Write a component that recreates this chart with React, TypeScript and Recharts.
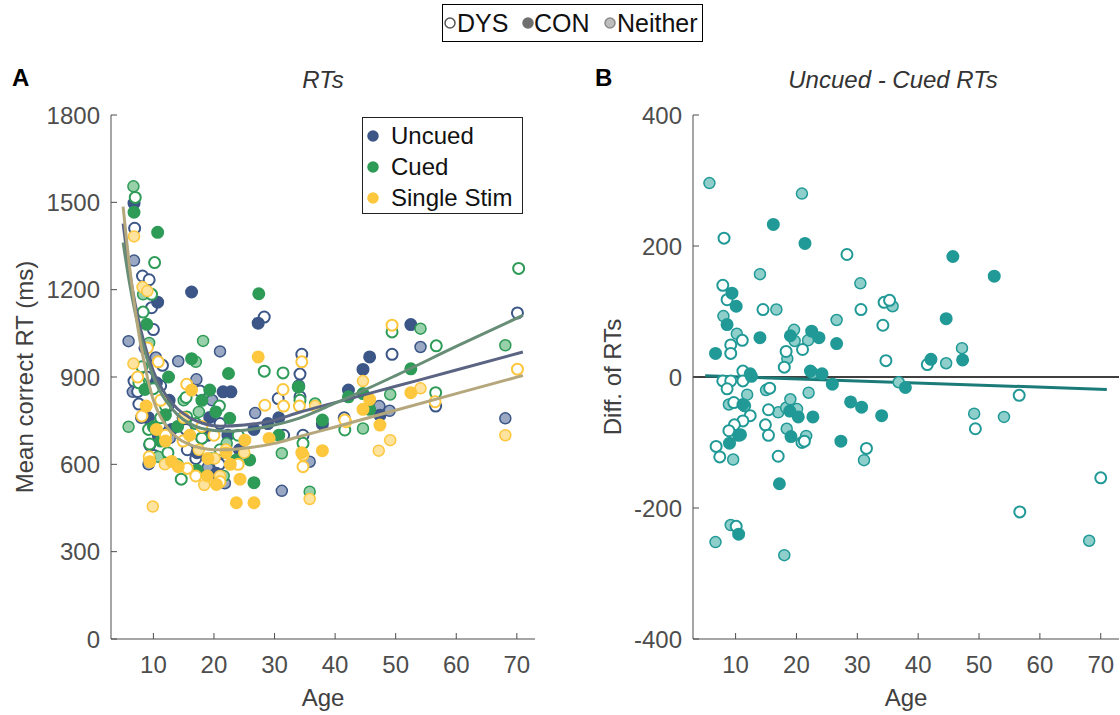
import React from 'react';
import { ScatterChart, Scatter, XAxis, YAxis, ReferenceLine } from 'recharts';

type Pt = [number, number];

// Panel A: [age, mean correct RT (ms)]
const uncuedDys: Pt[] = [
  [6.9, 1411], [8.2, 1247], [9.3, 1234], [9.7, 1138], [10.0, 1063], [11.5, 940], [6.8, 886],
  [8.9, 900], [11.2, 870], [7.4, 850], [7.6, 807], [12.4, 800], [9.2, 760], [14.9, 760],
  [11.1, 735], [15.4, 720], [18.0, 690], [9.4, 666], [15.6, 650], [21.3, 640], [10.1, 630],
  [17.0, 620], [20.9, 600], [17.7, 852], [21.0, 740], [28.3, 1106], [34.5, 978], [34.2, 910],
  [34.2, 832], [30.6, 826], [34.7, 700], [31.5, 700], [41.5, 760], [49.4, 978], [56.6, 800],
  [70.1, 1120],
];
const uncuedCon: Pt[] = [
  [6.8, 1497], [16.3, 1192], [10.7, 1157], [27.3, 1085], [8.6, 1000], [10.5, 880], [12.6, 820],
  [9.0, 760], [13.0, 720], [15.0, 760], [19.0, 700], [21.5, 849], [22.8, 849], [19.3, 761],
  [22.3, 700], [24.2, 650], [20.4, 569], [26.6, 720], [28.9, 740], [30.7, 760], [34.0, 870],
  [37.9, 738], [42.2, 855], [44.6, 926], [45.7, 969], [47.4, 769], [52.5, 1080], [17.2, 640],
  [10.8, 700],
];
const uncuedNeither: Pt[] = [
  [6.8, 1300], [5.9, 1023], [10.4, 967], [14.1, 954], [21.0, 988], [17.1, 892], [6.6, 849],
  [12.7, 690], [8.0, 760], [19.0, 590], [17.0, 640], [21.8, 535], [26.8, 776], [31.2, 509],
  [35.8, 609], [47.3, 800], [49.0, 784], [54.1, 1003], [68.1, 758], [9.2, 600], [19.7, 820],
  [22.0, 660], [15.0, 680],
];
const cuedDys: Pt[] = [
  [7.0, 1517], [10.2, 1293], [9.7, 1184], [8.3, 1123], [8.1, 935], [10.0, 860], [7.6, 880],
  [12.0, 800], [9.4, 670], [11.2, 760], [15.5, 763], [14.6, 549], [18.0, 690], [21.0, 650],
  [24.0, 700], [15.4, 830], [17.0, 740], [20.9, 800], [28.3, 920], [31.4, 914], [34.0, 866],
  [34.2, 820], [34.7, 672], [41.6, 718], [49.4, 1055], [56.7, 1007], [56.6, 846], [70.3, 1273],
  [12.4, 640], [9.2, 720],
];
const cuedCon: Pt[] = [
  [6.8, 1466], [10.7, 1397], [8.9, 1081], [27.4, 1186], [16.3, 963], [8.6, 857], [10.0, 729],
  [12.0, 770], [14.0, 730], [19.3, 855], [22.4, 912], [18.0, 820], [22.6, 758], [20.3, 780],
  [23.7, 615], [25.9, 615], [26.6, 537], [33.9, 866], [30.7, 700], [37.9, 752], [42.2, 832],
  [44.6, 843], [45.7, 789], [52.5, 928], [11.2, 680], [9.4, 620], [17.2, 580], [12.5, 900],
];
const cuedNeither: Pt[] = [
  [6.7, 1555], [8.3, 1184], [9.3, 1017], [18.2, 1024], [17.0, 952], [5.9, 729], [11.6, 700],
  [10.8, 626], [14.0, 600], [17.5, 780], [22.1, 672], [19.6, 620], [31.2, 638], [35.8, 506],
  [36.7, 809], [44.6, 723], [49.1, 840], [54.1, 1066], [68.1, 1009], [8.0, 880], [21.6, 560],
  [15.0, 820],
];
const singleDys: Pt[] = [
  [10.8, 952], [15.5, 875], [8.1, 766], [9.3, 626], [15.6, 586], [12.0, 700], [18.0, 730],
  [20.0, 700], [22.0, 650], [24.0, 600], [9.0, 1000], [11.2, 820], [14.9, 680], [17.0, 560],
  [21.0, 540], [28.4, 803], [31.4, 857], [31.5, 800], [34.1, 800], [34.5, 952], [34.7, 632],
  [34.7, 592], [41.6, 752], [49.4, 1078], [56.5, 815], [70.1, 927], [7.4, 900],
];
const singleCon: Pt[] = [
  [8.8, 800], [9.4, 609], [12.0, 680], [13.0, 610], [14.1, 592], [16.0, 700], [16.3, 855],
  [19.0, 620], [20.4, 531], [22.0, 640], [23.7, 468], [24.3, 549], [25.1, 683], [26.6, 468],
  [27.3, 969], [29.1, 689], [34.5, 640], [37.9, 647], [44.6, 789], [45.7, 823], [47.4, 735],
  [52.5, 846], [10.5, 720], [18.9, 560], [22.7, 600],
];
const singleNeither: Pt[] = [
  [6.8, 1383], [8.2, 1209], [9.0, 1195], [6.7, 946], [9.9, 455], [18.4, 529], [17.5, 650],
  [21.0, 560], [25.0, 640], [11.9, 600], [15.0, 760], [35.8, 481], [36.7, 800], [41.8, 745],
  [44.6, 886], [47.2, 647], [49.1, 683], [54.1, 861], [68.1, 700], [20.1, 620],
];

// fitted curves
const uncuedFit: Pt[] = [
  [5, 1427], [6, 1270], [7, 1150], [8, 1055], [9, 980], [10, 920], [11, 875], [12, 840],
  [14, 790], [16, 760], [18, 742], [21, 731], [25, 735], [30, 752], [34, 778], [40, 812],
  [50, 868], [60, 924], [71, 986],
];
const cuedFit: Pt[] = [
  [5, 1362], [6, 1230], [7, 1120], [8, 1030], [9, 960], [10, 900], [11, 855], [12, 820],
  [14, 770], [16, 740], [18, 723], [22, 714], [26, 720], [30, 735], [34, 758], [40, 810],
  [50, 905], [60, 1005], [71, 1112],
];
const singleFit: Pt[] = [
  [5, 1485], [6, 1290], [7, 1130], [8, 1000], [9, 900], [10, 820], [11, 770], [12, 735],
  [14, 690], [16, 668], [18, 655], [20, 650], [22, 650], [25, 655], [30, 672], [34, 695],
  [40, 728], [50, 786], [60, 843], [71, 905],
];

// Panel B: [age, uncued - cued RT]
const diffDys: Pt[] = [
  [8.1, 212], [28.3, 187], [7.9, 140], [8.6, 118], [14.5, 103], [34.4, 114], [35.3, 117],
  [30.6, 103], [34.2, 79], [34.7, 25], [41.5, 19], [56.6, -28], [49.4, -79], [70.0, -154],
  [56.7, -206], [11.1, 56], [9.2, 49], [9.2, 36], [21.0, 42], [18.3, 39], [18.0, 15], [11.2, 9],
  [7.9, -6], [9.2, -6], [11.2, -6], [8.6, -18], [15.6, -17], [9.7, -39], [11.5, -44],
  [15.4, -50], [12.4, -59], [11.2, -67], [9.8, -73], [8.9, -82], [14.9, -73], [15.4, -89],
  [6.8, -106], [7.4, -122], [20.9, -100], [21.3, -98], [31.5, -109], [17.0, -121], [10.1, -228],
];
const diffCon: Pt[] = [
  [16.2, 233], [21.4, 204], [9.4, 128], [10.1, 108], [45.7, 184], [52.5, 154], [44.6, 89],
  [42.1, 27], [47.3, 26], [37.9, -16], [34.0, -59], [8.6, 80], [6.7, 36], [14.0, 60],
  [19.0, 63], [22.5, 70], [23.7, 60], [26.6, 51], [12.4, 5], [12.6, 1], [22.3, 9], [24.2, 5],
  [25.9, -11], [11.2, -42], [18.9, -52], [20.3, -61], [22.7, -61], [28.9, -38], [30.7, -46],
  [10.5, -89], [10.8, -88], [9.0, -101], [19.1, -91], [27.3, -98], [17.2, -163], [10.5, -240],
];
const diffNeither: Pt[] = [
  [5.7, 296], [20.9, 280], [14.0, 157], [30.5, 143], [16.7, 103], [35.8, 108], [47.2, 44],
  [44.6, 21], [36.8, -8], [49.2, -56], [54.1, -61], [68.1, -250], [8.0, 93], [10.2, 66],
  [19.6, 72], [19.7, 55], [21.9, 56], [18.5, 28], [26.6, 87], [22.7, 6], [15.0, -20],
  [22.0, -24], [11.9, -27], [8.9, -42], [17.0, -54], [18.3, -47], [19.0, -34], [20.1, -49],
  [9.6, -126], [18.4, -79], [21.6, -90], [31.1, -127], [9.2, -226], [6.7, -252], [18.0, -272],
];
const diffFit: Pt[] = [[5, 2], [71, -19]];

const ageTicks = [10, 20, 30, 40, 50, 60, 70];
const rtTicks = [0, 300, 600, 900, 1200, 1500, 1800];
const diffTicks = [-400, -200, 0, 200, 400];

const FONT = '"Liberation Sans", Arial, Helvetica, sans-serif';
const AXIS = '#4d4d4d';
const LABEL = '#404040';

const BLUE = '#3b5687';
const BLUE_L = '#9ba8c3';
const GREEN = '#2e9b57';
const GREEN_L = '#98d1a9';
const YELLOW = '#fdc73e';
const YELLOW_L = '#fee39e';
const TEAL = '#219a97';
const TEAL_L = '#8fcfcb';

const xy = (pts: Pt[]) => pts.map(([x, y]) => ({ x, y }));

const marker = (fill: string, stroke: string, sw = 2) => (p: any) =>
  p.cx == null ? <g /> : <circle cx={p.cx} cy={p.cy} r={5.5} fill={fill} stroke={stroke} strokeWidth={sw} />;

const noDot = () => <g />;

const tickStyle = { fill: AXIS, fontSize: 24 };

const abs = (left: number, top: number, extra: React.CSSProperties = {}): React.CSSProperties => ({
  position: 'absolute', left, top, ...extra,
});

const Dot = ({ x, y, fill, stroke }: { x: number; y: number; fill: string; stroke: string }) => (
  <svg style={abs(x - 7, y - 7)} width={14} height={14}>
    <circle cx={7} cy={7} r={5} fill={fill} stroke={stroke} strokeWidth={1.5} />
  </svg>
);

const Txt = ({ x, y, children, style }: { x: number; y: number; children: React.ReactNode; style?: React.CSSProperties }) => (
  <div style={abs(x, y - 15, { height: 30, lineHeight: '30px', fontSize: 24, whiteSpace: 'nowrap', ...style })}>{children}</div>
);

const CenterTxt = ({ cx, y, children, style }: { cx: number; y: number; children: React.ReactNode; style?: React.CSSProperties }) => (
  <div style={abs(cx - 200, y - 15, { width: 400, textAlign: 'center', height: 30, lineHeight: '30px', fontSize: 24, ...style })}>{children}</div>
);

export default function App() {
  return (
    <div style={{ position: 'absolute', left: 0, top: 0, width: 1120, height: 715, background: '#fff', fontFamily: FONT, overflow: 'hidden' }}>
      <div style={abs(0, 0)}>
        <ScatterChart width={560} height={715} margin={{ top: 115, right: 25, bottom: 0, left: 0 }}>
          <XAxis type="number" dataKey="x" domain={[3, 73]} ticks={ageTicks} allowDataOverflow height={76}
            tickSize={-6} tickMargin={23} stroke={AXIS} tick={tickStyle}
            label={{ value: 'Age', position: 'insideBottom', offset: 9, fill: LABEL, fontSize: 24 }} />
          <YAxis type="number" dataKey="y" domain={[0, 1800]} ticks={rtTicks} allowDataOverflow width={111}
            tickSize={-6} tickMargin={17} stroke={AXIS} tick={tickStyle}
            label={{ value: 'Mean correct RT (ms)', angle: -90, position: 'insideLeft', offset: 24, fill: LABEL, fontSize: 24, style: { textAnchor: 'middle' } }} />
          <Scatter data={xy(uncuedNeither)} shape={marker(BLUE_L, BLUE, 1.5)} isAnimationActive={false} />
          <Scatter data={xy(uncuedDys)} shape={marker('#fff', BLUE)} isAnimationActive={false} />
          <Scatter data={xy(uncuedCon)} shape={marker(BLUE, BLUE)} isAnimationActive={false} />
          <Scatter data={xy(cuedNeither)} shape={marker(GREEN_L, GREEN, 1.5)} isAnimationActive={false} />
          <Scatter data={xy(cuedDys)} shape={marker('#fff', GREEN)} isAnimationActive={false} />
          <Scatter data={xy(cuedCon)} shape={marker(GREEN, GREEN)} isAnimationActive={false} />
          <Scatter data={xy(singleNeither)} shape={marker(YELLOW_L, YELLOW, 1.5)} isAnimationActive={false} />
          <Scatter data={xy(singleDys)} shape={marker('#fff', YELLOW)} isAnimationActive={false} />
          <Scatter data={xy(singleCon)} shape={marker(YELLOW, YELLOW)} isAnimationActive={false} />
          <Scatter data={xy(uncuedFit)} line={{ stroke: '#5b6583', strokeWidth: 3 }} lineJointType="monotoneX" shape={noDot} isAnimationActive={false} />
          <Scatter data={xy(cuedFit)} line={{ stroke: '#678d76', strokeWidth: 3 }} lineJointType="monotoneX" shape={noDot} isAnimationActive={false} />
          <Scatter data={xy(singleFit)} line={{ stroke: '#b5a77c', strokeWidth: 3 }} lineJointType="monotoneX" shape={noDot} isAnimationActive={false} />
        </ScatterChart>
      </div>

      <div style={abs(560, 0)}>
        <ScatterChart width={560} height={715} margin={{ top: 115, right: 1, bottom: 0, left: 0 }}>
          <XAxis type="number" dataKey="x" domain={[3, 73]} ticks={ageTicks} allowDataOverflow height={76}
            tickSize={-6} tickMargin={23} stroke={AXIS} tick={tickStyle}
            label={{ value: 'Age', position: 'insideBottom', offset: 9, fill: LABEL, fontSize: 24 }} />
          <YAxis type="number" dataKey="y" domain={[-400, 400]} ticks={diffTicks} allowDataOverflow width={133}
            tickSize={-6} tickMargin={17} stroke={AXIS} tick={tickStyle}
            label={{ value: 'Diff. of RTs', angle: -90, position: 'insideLeft', offset: 52, fill: LABEL, fontSize: 24, style: { textAnchor: 'middle' } }} />
          <ReferenceLine y={0} stroke="#000" strokeWidth={1.5} />
          <Scatter data={xy(diffFit)} line={{ stroke: '#1b7b79', strokeWidth: 3 }} shape={noDot} isAnimationActive={false} />
          <Scatter data={xy(diffNeither)} shape={marker(TEAL_L, TEAL, 1.5)} isAnimationActive={false} />
          <Scatter data={xy(diffDys)} shape={marker('#fff', TEAL)} isAnimationActive={false} />
          <Scatter data={xy(diffCon)} shape={marker(TEAL, TEAL)} isAnimationActive={false} />
        </ScatterChart>
      </div>

      {/* panel letters and titles */}
      <Txt x={12} y={78} style={{ fontWeight: 'bold', color: '#000' }}>A</Txt>
      <Txt x={595} y={78} style={{ fontWeight: 'bold', color: '#000' }}>B</Txt>
      <CenterTxt cx={323} y={80} style={{ fontStyle: 'italic', color: '#333' }}>RTs</CenterTxt>
      <CenterTxt cx={893} y={80} style={{ fontStyle: 'italic', color: '#333' }}>Uncued - Cued RTs</CenterTxt>

      {/* group legend */}
      <div style={abs(442, 4, { width: 261, height: 38, border: '1px solid #000', boxSizing: 'border-box' })} />
      <Dot x={450} y={23} fill="#fff" stroke="#555" />
      <Txt x={457} y={23} style={{ color: '#111', fontSize: 25 }}>DYS</Txt>
      <Dot x={528} y={23} fill="#6f6f6f" stroke="#6f6f6f" />
      <Txt x={534} y={23} style={{ color: '#111', fontSize: 25 }}>CON</Txt>
      <Dot x={610} y={23} fill="#bdbdbd" stroke="#8a8a8a" />
      <Txt x={617} y={23} style={{ color: '#111', fontSize: 25 }}>Neither</Txt>

      {/* condition legend */}
      <div style={abs(362, 117, { width: 161, height: 97, border: '1px solid #222', boxSizing: 'border-box', background: '#fff' })} />
      <Dot x={373} y={136} fill={BLUE} stroke={BLUE} />
      <Txt x={391} y={136} style={{ color: '#111' }}>Uncued</Txt>
      <Dot x={373} y={167} fill={GREEN} stroke={GREEN} />
      <Txt x={391} y={167} style={{ color: '#111' }}>Cued</Txt>
      <Dot x={373} y={198} fill={YELLOW} stroke={YELLOW} />
      <Txt x={391} y={198} style={{ color: '#111' }}>Single Stim</Txt>
    </div>
  );
}
